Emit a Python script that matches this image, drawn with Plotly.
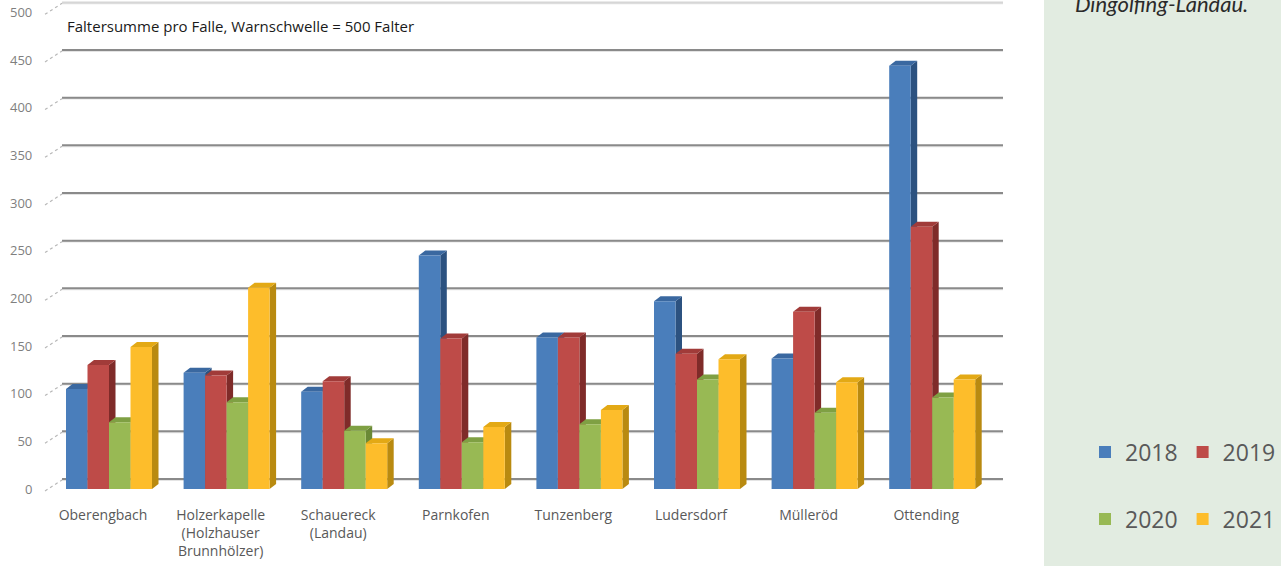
import plotly.graph_objects as go

# ---------------- data ----------------
categories = ["Oberengbach", "Holzerkapelle<br>(Holzhauser<br>Brunnhölzer)", "Schauereck<br>(Landau)",
              "Parnkofen", "Tunzenberg", "Ludersdorf", "Mülleröd", "Ottending"]
years = ["2018", "2019", "2020", "2021"]
v2018 = [105, 122, 102, 245, 159, 197, 137, 444]
v2019 = [130, 119, 113, 158, 159, 142, 186, 275]
v2020 = [70, 91, 61, 49, 68, 115, 80, 96]
v2021 = [149, 211, 48, 65, 83, 136, 112, 115]
y_ticks = [0, 50, 100, 150, 200, 250, 300, 350, 400, 450, 500]

series = [v2018, v2019, v2020, v2021]
front_colors = ["#4a7ebb", "#be4b48", "#98b954", "#fdbd2b"]
side_colors = ["#2c5280", "#7f2b29", "#6a8936", "#b98a10"]
top_colors = ["#3a68a0", "#a13b39", "#7fa043", "#e3a915"]

W, H = 1281, 566
# geometry (pixels -> axis units)
px_per_cat = 117.6
cat0_px = 103.0
x_lo, x_hi = -0.55, 7.7
px_per_unit = 0.953
base_px = 489.0
plot_bottom_px = 500.0
y_lo = -(plot_bottom_px - base_px) / px_per_unit
y_hi = 513.0

bar_w = 21.5 / px_per_cat
first_off = -37.0 / px_per_cat
dx = 6.5 / px_per_cat          # depth shift of bar faces (x units)
dy = 5.0 / px_per_unit         # depth shift of bar faces (y units)
wall_dx = 17.0 / px_per_cat    # back-wall shift
wall_dy = 10.0 / px_per_unit
wall_left = -0.493
wall_right = (1003 - cat0_px) / px_per_cat

xdom0 = (cat0_px + x_lo * px_per_cat) / W
xdom1 = (cat0_px + x_hi * px_per_cat) / W
ydom0 = 1 - plot_bottom_px / H
ydom1 = 1.0

fig = go.Figure()
shapes = []

# right-hand panel
shapes.append(dict(type="rect", xref="paper", yref="paper", x0=1044 / W, x1=1.0, y0=0, y1=1,
                   fillcolor="#e2ece1", line=dict(width=0), layer="below"))

# back-wall gridlines and slanted wall ticks
for t in y_ticks:
    col = "#d6d6d6" if t == y_ticks[-1] else "#8a8a8a"
    shapes.append(dict(type="line", xref="x", yref="y", x0=wall_left + wall_dx, x1=wall_right,
                       y0=t + wall_dy - 1.2, y1=t + wall_dy - 1.2, line=dict(color="#e4e4e4", width=1.5),
                       layer="below"))
    shapes.append(dict(type="line", xref="x", yref="y", x0=wall_left + wall_dx, x1=wall_right,
                       y0=t + wall_dy, y1=t + wall_dy, line=dict(color=col, width=2), layer="below"))
    shapes.append(dict(type="line", xref="x", yref="y", x0=wall_left, x1=wall_left + wall_dx,
                       y0=t - 2, y1=t + wall_dy - 1, line=dict(color="#b8b8b8", width=1.2, dash="dot"),
                       layer="below"))

# 3D side faces then top faces (drawn below the front faces = bar traces)
side_shapes, top_shapes = [], []
for k, vals in enumerate(series):
    off = first_off + k * bar_w
    for j, v in enumerate(vals):
        x0 = j + off
        x1 = x0 + bar_w
        side_shapes.append(dict(
            type="path", xref="x", yref="y", layer="below", line=dict(width=0),
            fillcolor=side_colors[k],
            path=f"M{x1},{0} L{x1 + dx},{dy} L{x1 + dx},{v + dy} L{x1},{v} Z"))
        top_shapes.append(dict(
            type="path", xref="x", yref="y", layer="below", line=dict(width=0),
            fillcolor=top_colors[k],
            path=f"M{x0},{v} L{x1},{v} L{x1 + dx},{v + dy} L{x0 + dx},{v + dy} Z"))
shapes += side_shapes + top_shapes

# front faces as real bars
for k, (yr, vals) in enumerate(zip(years, series)):
    fig.add_trace(go.Bar(
        x=categories, y=vals, name=yr,
        offset=first_off + k * bar_w, width=bar_w,
        marker=dict(color=front_colors[k], line=dict(width=0)),
        legend="legend" if k < 2 else "legend2",
    ))

fig.update_layout(
    width=W, height=H,
    margin=dict(l=0, r=0, t=0, b=0),
    paper_bgcolor="white", plot_bgcolor="rgba(0,0,0,0)",
    barmode="overlay",
    font=dict(family="Open Sans, sans-serif", color="#595959"),
    shapes=shapes,
    xaxis=dict(domain=[xdom0, xdom1], range=[x_lo, x_hi], type="category",
               showgrid=False, zeroline=False, showline=False, ticks="",
               tickfont=dict(size=14, color="#595959"), ticklabelstandoff=5),
    yaxis=dict(domain=[ydom0, ydom1], range=[y_lo, y_hi], tickvals=y_ticks,
               showgrid=False, zeroline=False, showline=False, ticks="",
               tickfont=dict(size=13, color="#7f7f7f"), ticklabelstandoff=5),
    legend=dict(orientation="h", x=1.0, xanchor="right", y=1 - 452 / H, yanchor="middle",
                bgcolor="rgba(0,0,0,0)", font=dict(size=23, color="#595959")),
    legend2=dict(orientation="h", x=1.0, xanchor="right", y=1 - 519 / H, yanchor="middle",
                 bgcolor="rgba(0,0,0,0)", font=dict(size=23, color="#595959")),
    annotations=[
        dict(text="Faltersumme pro Falle, Warnschwelle = 500 Falter", xref="paper", yref="paper",
             x=65 / W, y=1 - 26 / H, xanchor="left", yanchor="middle", showarrow=False,
             font=dict(size=15, color="#1a1a1a", family="Open Sans, sans-serif")),
        dict(text="<i>Dingolfing-Landau.</i>", xref="paper", yref="paper",
             x=1073 / W, y=1 - 19 / H, xanchor="left", yanchor="bottom", showarrow=False,
             font=dict(size=22, color="#2a2a2a", family="Lato, sans-serif")),
    ],
    showlegend=True,
)

fig.write_html("out.html")
